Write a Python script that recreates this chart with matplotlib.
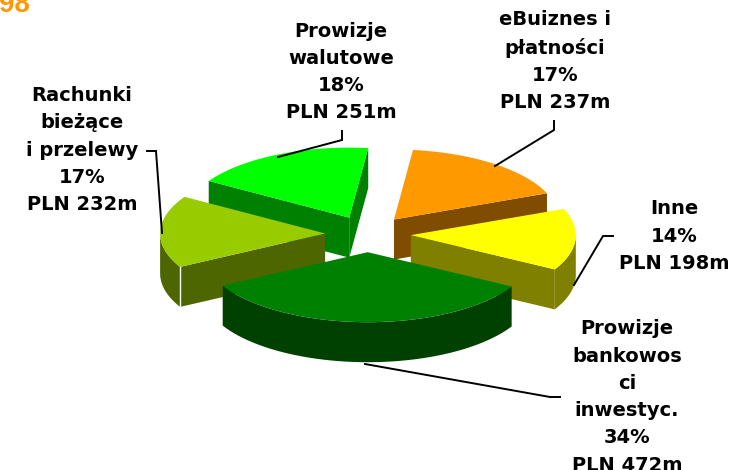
import matplotlib
matplotlib.use("Agg")
import matplotlib.pyplot as plt
import numpy as np

# clockwise from the gap at the top
names = ["eBuiznes i\npłatności", "Inne", "Prowizje\nbankowos\nci\ninwestyc.",
         "Rachunki\nbieżące\ni przelewy", "Prowizje\nwalutowe"]
amounts = [237, 198, 472, 232, 251]
percents = [17, 14, 34, 17, 18]
top_colors = ["#FF9900", "#FFFF00", "#008000", "#99CC00", "#00FF00"]
side_colors = ["#804C00", "#808000", "#004000", "#4D6600", "#008000"]

# layout in pixels
cx, cy = 368, 234
rx, ry = 165, 70
depth = 40
explode = 0.26
start_angle = 6.6
draw_order = [4, 0, 3, 1, 2]
label_pos = [(555, 61), (674, 236), (627, 397), (82, 150), (341, 72)]
leaders = [
    [(495, 166), (554, 130), (554, 121)],
    [(574, 285), (603, 236), (613, 236)],
    [(365, 364), (550, 397), (560, 397)],
    [(147, 151), (156, 151), (162, 233)],
    [(278, 157), (342, 140), (342, 131)],
]


def rim(ox, oy, a0, a1):
    t = np.radians(np.linspace(a0, a1, max(int(a1 - a0), 2)))
    return np.column_stack([ox + rx * np.sin(t), oy - ry * np.cos(t)])


def wall(top, color):
    bottom = top[::-1] + [0, depth]
    ax.fill(*np.vstack([top, bottom]).T, color=color, lw=0)


fig = plt.figure(figsize=(7.33, 4.70), dpi=100)
ax = fig.add_axes([0, 0, 1, 1])
ax.set_xlim(0, 733)
ax.set_ylim(470, 0)
ax.axis("off")

sweeps = np.array(amounts) / sum(amounts) * 360
starts = start_angle + np.concatenate([[0], np.cumsum(sweeps)[:-1]])

for i in draw_order:
    a0, a1 = starts[i], starts[i] + sweeps[i]
    mid = np.radians((a0 + a1) / 2)
    ox = cx + explode * rx * np.sin(mid)
    oy = cy - explode * ry * np.cos(mid)
    edge = rim(ox, oy, a0, a1)
    apex = np.array([[ox, oy]])

    # radial faces that look towards the viewer
    if np.sin(np.radians(a0)) < 0:
        wall(np.vstack([apex, edge[:1]]), side_colors[i])
    if np.sin(np.radians(a1)) > 0:
        wall(np.vstack([apex, edge[-1:]]), side_colors[i])

    # outer wall, only the front half of the circle shows
    front0, front1 = max(a0, 90), min(a1, 270)
    if front1 > front0:
        wall(rim(ox, oy, front0, front1), side_colors[i])
        if a0 > 180:
            p = rim(ox, oy, a0, a0 + 1)[0]
            ax.plot([p[0], p[0]], [p[1], p[1] + depth], color="white", lw=1)

    ax.fill(*np.vstack([apex, edge]).T, color=top_colors[i], lw=0)

for path in leaders:
    xs, ys = zip(*path)
    ax.plot(xs, ys, color="black", lw=1.4, solid_joinstyle="miter")

for name, pct, amount, (x, y) in zip(names, percents, amounts, label_pos):
    ax.text(x, y, f"{name}\n{pct}%\nPLN {amount}m", ha="center", va="center",
            family="DejaVu Sans", weight="bold", fontsize=14,
            linespacing=1.55, color="black")

ax.text(-1, 12, "98", ha="left", va="baseline", family="Liberation Sans",
        weight="bold", fontsize=20, color="#FF9900")

fig.savefig("out.png", dpi=100)
